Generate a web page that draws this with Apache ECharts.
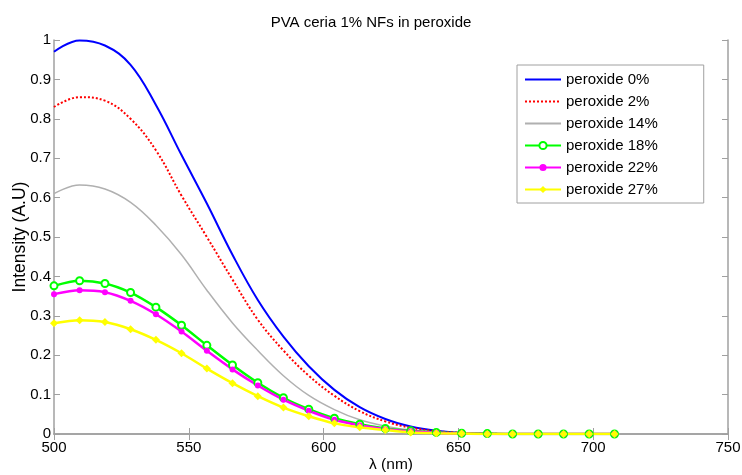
<!DOCTYPE html>
<html>
<head>
<meta charset="utf-8">
<script src="https://cdn.jsdelivr.net/npm/echarts@6/dist/echarts.min.js"></script>
<style>
  html, body { margin: 0; padding: 0; background: #fff; }
</style>
</head>
<body>
<div id="chart" style="width:742px;height:475px;"></div>
<script>
// wavelength (nm) of the sampled points
var wavelength = [500, 509.5, 518.9, 528.4, 537.8, 547.3, 556.7, 566.2, 575.6, 585.1, 594.5, 604.0,
                  613.4, 622.9, 632.3, 641.8, 651.2, 660.7, 670.1, 679.6, 689.0, 698.5, 707.9];

var p0  = [0.970, 0.999, 0.986, 0.937, 0.835, 0.708, 0.585, 0.455, 0.340, 0.247, 0.172, 0.112,
           0.068, 0.038, 0.019, 0.008, 0.003, 0.001, 0, 0, 0, 0, 0];
var p2  = [0.830, 0.855, 0.846, 0.800, 0.720, 0.605, 0.500, 0.392, 0.290, 0.212, 0.148, 0.097,
           0.058, 0.032, 0.016, 0.007, 0.003, 0.001, 0, 0, 0, 0, 0];
var p14 = [0.610, 0.632, 0.622, 0.588, 0.530, 0.455, 0.365, 0.282, 0.212, 0.148, 0.098, 0.062,
           0.036, 0.020, 0.010, 0.005, 0.002, 0.001, 0, 0, 0, 0, 0];
var p18 = [0.376, 0.389, 0.382, 0.359, 0.322, 0.276, 0.225, 0.175, 0.130, 0.092, 0.063, 0.040,
           0.025, 0.014, 0.008, 0.004, 0.002, 0.001, 0, 0, 0, 0, 0];
var p22 = [0.355, 0.365, 0.360, 0.338, 0.304, 0.260, 0.211, 0.164, 0.123, 0.087, 0.059, 0.036,
           0.022, 0.012, 0.007, 0.003, 0.001, 0, 0, 0, 0, 0, 0];
var p27 = [0.281, 0.289, 0.284, 0.266, 0.239, 0.205, 0.166, 0.129, 0.096, 0.067, 0.045, 0.027,
           0.017, 0.010, 0.004, 0.002, 0.001, 0, 0, 0, 0, 0, 0];

var names = ['peroxide 0%', 'peroxide 2%', 'peroxide 14%', 'peroxide 18%', 'peroxide 22%', 'peroxide 27%'];

function pairs(ys) {
  var out = [];
  for (var i = 0; i < wavelength.length; i++) out.push([wavelength[i], ys[i]]);
  return out;
}

var font = 'Liberation Sans, Arial, sans-serif';
var axisGray = '#a0a0a0';

var myChart = echarts.init(document.getElementById('chart'));

function curve(name, ys, color, width, type) {
  return {
    name: name, type: 'line', data: pairs(ys), smooth: 0.4,
    symbol: 'none', animation: false,
    lineStyle: { color: color, width: width, type: type || 'solid' },
    itemStyle: { color: color }
  };
}

function marked(name, ys, color, sym, size) {
  return {
    name: name, type: 'line', data: pairs(ys), smooth: 0.3,
    symbol: sym, symbolSize: size, showSymbol: true, animation: false,
    lineStyle: { color: color, width: 2.5 },
    itemStyle: { color: color, borderColor: color, borderWidth: sym === 'emptyCircle' ? 1.5 : 0 }
  };
}

// legend entries: plain lines get no marker
var legendData = names.map(function (n, i) {
  return i < 3 ? { name: n, itemStyle: { opacity: 0 } } : { name: n };
});

var option = {
  backgroundColor: '#fff',
  animation: false,
  title: {
    text: 'PVA ceria 1% NFs in peroxide',
    left: 'center', top: 10,
    textStyle: { fontFamily: font, fontSize: 15, fontWeight: 'normal', color: '#000' }
  },
  grid: { left: 54, right: 14, top: 40, bottom: 41, outerBoundsMode: 'none' },
  legend: {
    data: legendData,
    orient: 'vertical',
    left: 517, top: 65,
    backgroundColor: '#fff',
    borderColor: '#a0a0a0', borderWidth: 1, borderRadius: 0,
    padding: [7, 46, 6, 7],
    itemWidth: 36, itemHeight: 9, itemGap: 7,
    textStyle: { fontFamily: font, fontSize: 15, color: '#000' }
  },
  xAxis: [{
    type: 'value', min: 500, max: 750, interval: 50,
    name: 'λ (nm)', nameLocation: 'middle', nameGap: 23, nameMoveOverlap: false,
    nameTextStyle: { fontFamily: font, fontSize: 15.5, color: '#000' },
    axisLine: { lineStyle: { color: axisGray, width: 1.5 } },
    axisTick: { inside: true, length: 6, lineStyle: { color: axisGray } },
    axisLabel: { fontFamily: font, fontSize: 15, color: '#000', margin: 6 },
    splitLine: { show: false }
  }, {
    type: 'value', min: 500, max: 750, interval: 50, position: 'top',
    axisLine: { lineStyle: { color: axisGray, width: 1.5 } },
    axisTick: { inside: true, length: 6, lineStyle: { color: axisGray } },
    axisLabel: { show: false }, splitLine: { show: false }
  }],
  yAxis: [{
    type: 'value', min: 0, max: 1, interval: 0.1,
    name: 'Intensity (A.U)', nameLocation: 'middle', nameGap: 25, nameMoveOverlap: false,
    nameTextStyle: { fontFamily: font, fontSize: 17.5, color: '#000' },
    axisLine: { show: true, lineStyle: { color: axisGray, width: 1.5 } },
    axisTick: { show: true, inside: true, length: 6, lineStyle: { color: axisGray } },
    axisLabel: { fontFamily: font, fontSize: 15, color: '#000', margin: 3 },
    splitLine: { show: false }
  }, {
    type: 'value', min: 0, max: 1, interval: 0.1, position: 'right',
    axisLine: { show: true, lineStyle: { color: axisGray, width: 1.5 } },
    axisTick: { show: true, inside: true, length: 6, lineStyle: { color: axisGray } },
    axisLabel: { show: false }, splitLine: { show: false }
  }],
  series: [
    curve(names[0], p0, '#0000ff', 2),
    curve(names[1], p2, '#ff0000', 2, 'dotted'),
    curve(names[2], p14, '#b0b0b0', 1.5),
    marked(names[3], p18, '#00ff00', 'emptyCircle', 7),
    marked(names[4], p22, '#ff00ff', 'circle', 6),
    marked(names[5], p27, '#ffff00', 'diamond', 8)
  ]
};

option && myChart.setOption(option);
</script>
</body>
</html>
